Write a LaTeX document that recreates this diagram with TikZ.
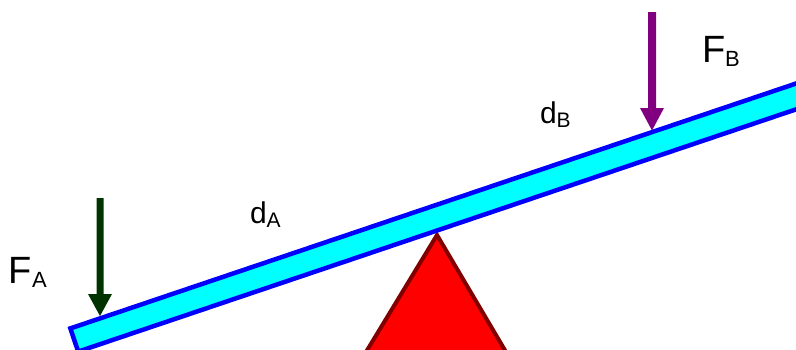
\documentclass[tikz,border=0pt]{standalone}
\usepackage{fontspec}
\setmainfont{Liberation Sans}
\definecolor{beamfill}{RGB}{0,255,255}
\definecolor{beamline}{RGB}{0,0,255}
\definecolor{fulfill}{RGB}{255,0,0}
\definecolor{fulline}{RGB}{128,0,0}
\definecolor{forcea}{RGB}{0,51,0}
\definecolor{forceb}{RGB}{128,0,128}
\tikzset{
  beam/.style={draw=beamline,fill=beamfill,line width=4.5pt,line join=miter},
  fulcrum/.style={draw=fulline,fill=fulfill,line width=4pt,line join=miter},
  lbl/.style={anchor=base west,inner sep=0pt,outer sep=0pt},
}
\newcommand{\bigF}[1]{{\fontsize{38}{40}\selectfont F}\raisebox{-4.5pt}{\fontsize{22}{24}\selectfont #1}}
\newcommand{\smallD}[1]{{\fontsize{30}{32}\selectfont d}\raisebox{-4pt}{\fontsize{21}{24}\selectfont #1}}
\begin{document}
\begin{tikzpicture}[x=1pt,y=-1pt]
\useasboundingbox (0,0) rectangle (796,349);
\clip (0,0) rectangle (796,349);
% fulcrum
\draw[fulcrum] (437,235) -- (366,352) -- (506,352) -- cycle;
% beam
\draw[beam] (70.35,328.4) -- (828.35,72.6) -- (836.2,95.8) -- (78.18,351.6) -- cycle;
% force A arrow
\fill[forcea] (96.5,198) -- (103.5,198) -- (103.5,294) -- (112,294) -- (100,316) -- (88,294) -- (96.5,294) -- cycle;
% force B arrow
\fill[forceb] (648,12) -- (656,12) -- (656,108) -- (664,108) -- (652,130.5) -- (640,108) -- (648,108) -- cycle;
% labels
\node[lbl] (fa) at (9,283) {\bigF{A}};
\node[lbl] (fb) at (702,62) {\bigF{B}};
\node[lbl] (da) at (250,223) {\smallD{A}};
\node[lbl] (db) at (540,123) {\smallD{B}};
\end{tikzpicture}
\end{document}
